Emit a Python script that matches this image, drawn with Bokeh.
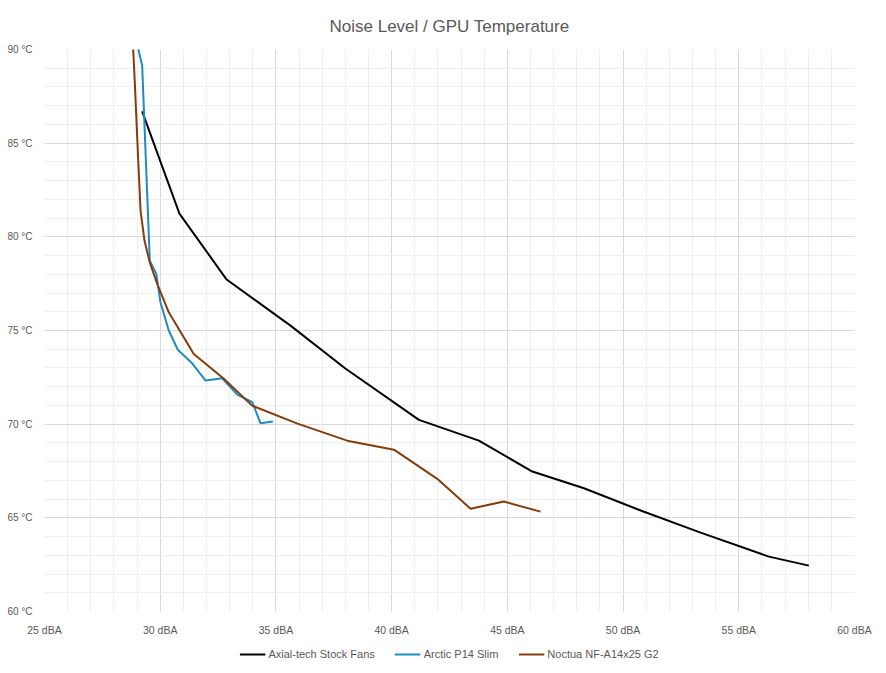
from bokeh.plotting import figure
from bokeh.models import Range1d, FixedTicker, Legend, LegendItem
from bokeh.layouts import column
from bokeh.embed import file_html
from bokeh.resources import INLINE

# ---- data ----
axial_x = [29.22, 30.83, 32.87, 35.63, 38.00, 41.18, 43.77, 46.08, 48.31, 50.76, 53.35, 56.30, 58.03]
axial_y = [86.70, 81.24, 77.72, 75.26, 72.97, 70.23, 69.12, 67.47, 66.58, 65.39, 64.21, 62.93, 62.45]

arctic_x = [29.00, 29.22, 29.55, 29.83, 30.01, 30.37, 30.76, 31.38, 31.96, 32.68, 33.33, 33.98, 34.33, 34.87]
arctic_y = [90.30, 89.15, 78.73, 78.02, 76.51, 75.00, 73.97, 73.25, 72.33, 72.45, 71.58, 71.17, 70.05, 70.14]

noctua_x = [28.82, 28.90, 29.04, 29.15, 29.32, 29.55, 29.87, 30.37, 31.45, 32.75, 33.97, 35.93, 38.08, 40.10, 41.97, 43.41, 44.85, 46.43]
noctua_y = [90.30, 88.30, 84.34, 81.40, 79.80, 78.63, 77.49, 75.97, 73.75, 72.42, 70.99, 70.03, 69.12, 68.64, 67.08, 65.48, 65.87, 65.33]

series_names = ["Axial-tech Stock Fans", "Arctic P14 Slim", "Noctua NF-A14x25 G2"]
series_colors = ["#000000", "#1f8bc0", "#843c0c"]
series_data = [(axial_x, axial_y), (arctic_x, arctic_y), (noctua_x, noctua_y)]

x_ticks = [25, 30, 35, 40, 45, 50, 55, 60]
y_ticks = [60, 65, 70, 75, 80, 85, 90]
x_tick_labels = {t: f"{t} dBA" for t in x_ticks}
y_tick_labels = {t: f"{t} °C" for t in y_ticks}

TEXT = "#595959"
FONT = "Liberation Sans"

p = figure(frame_width=810, frame_height=562, output_backend="svg", toolbar_location=None,
           x_range=Range1d(25, 60), y_range=Range1d(60, 90),
           min_border_left=44, min_border_right=24, min_border_top=49, min_border_bottom=30,
           title="Noise Level / GPU Temperature")

p.title.align = "center"
p.title.text_font = FONT
p.title.text_font_size = "17px"
p.title.text_font_style = "normal"
p.title.text_color = TEXT
p.title.standoff = 28

p.outline_line_color = None
p.background_fill_color = "white"
p.border_fill_color = "white"

p.xaxis.ticker = FixedTicker(ticks=x_ticks, minor_ticks=list(range(25, 61)))
p.yaxis.ticker = FixedTicker(ticks=y_ticks, minor_ticks=list(range(60, 91)))
p.xaxis.major_label_overrides = x_tick_labels
p.yaxis.major_label_overrides = y_tick_labels

for ax in (p.xaxis[0], p.yaxis[0]):
    ax.axis_line_color = None
    ax.major_tick_line_color = None
    ax.minor_tick_line_color = None
    ax.major_label_text_font = FONT
    ax.major_label_text_color = TEXT
p.xaxis.major_label_text_font_size = "10.5px"
p.yaxis.major_label_text_font_size = "10px"
p.xaxis.major_label_standoff = 6
p.yaxis.major_label_standoff = 6

for g in (p.xgrid[0], p.ygrid[0]):
    g.grid_line_color = "#d9d9d9"
    g.grid_line_width = 1
    g.minor_grid_line_color = "#efefef"
    g.minor_grid_line_width = 1

for (xs, ys), c in zip(series_data, series_colors):
    p.line(xs, ys, line_color=c, line_width=2)

# legend strip below the chart (its own small figure, same series styles)
leg_fig = figure(width=878, height=25, output_backend="svg", toolbar_location=None,
                 x_range=Range1d(0, 1), y_range=Range1d(0, 1),
                 min_border=0, x_axis_location=None, y_axis_location=None)
leg_fig.outline_line_color = None
leg_fig.xgrid.visible = False
leg_fig.ygrid.visible = False
items = []
for (xs, ys), c, name in zip(series_data, series_colors, series_names):
    r = leg_fig.line(xs, ys, line_color=c, line_width=2)
    items.append(LegendItem(label=name, renderers=[r]))

legend = Legend(items=items, orientation="horizontal", location="center")
legend.label_text_font = FONT
legend.label_text_font_size = "11px"
legend.label_text_color = TEXT
legend.glyph_width = 26
legend.glyph_height = 14
legend.label_height = 14
legend.label_standoff = 3
legend.spacing = 20
legend.padding = 4
legend.margin = 0
legend.border_line_color = None
legend.background_fill_alpha = 0
leg_fig.add_layout(legend, "center")

layout = column(p, leg_fig, spacing=0)
open("out.html", "w").write(file_html(layout, INLINE))
